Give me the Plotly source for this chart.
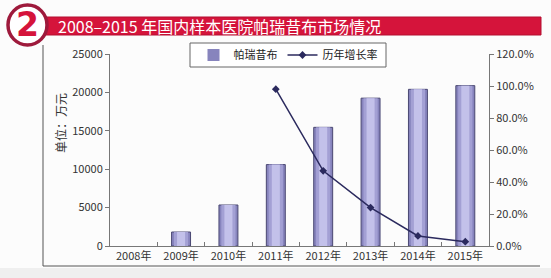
import plotly.graph_objects as go

years = ["2008年", "2009年", "2010年", "2011年", "2012年", "2013年", "2014年", "2015年"]
sales = [0, 1820, 5340, 10600, 15450, 19250, 20400, 20880]
growth = [None, None, None, 0.98, 0.47, 0.24, 0.063, 0.027]

title_text = "2008–2015 年国内样本医院帕瑞昔布市场情况"
y_title = "单位：万元"
bar_name = "帕瑞昔布"
line_name = "历年增长率"

W, H = 551, 278
L, R, T, B = 110, 489, 54, 246


def px(x):
    return (x - L) / (R - L)


def py(y):
    return (B - y) / (B - T)


FONT = "Noto Sans CJK SC"

fig = go.Figure()

outline = [0 if v == 0 else 1 for v in sales]
layers = [(0.40, "#8784bd", True), (0.30, "#a3a0d4", False), (0.17, "#c3c1ea", False)]
for w, c, first in layers:
    fig.add_trace(go.Bar(
        x=years, y=sales, width=w, name=bar_name,
        marker=dict(color=c, line=dict(color="#4a4872", width=outline if first else 0)),
        showlegend=first, hoverinfo="skip" if not first else None,
    ))

fig.add_trace(go.Scatter(
    x=years, y=growth, name=line_name, yaxis="y2", mode="lines+markers",
    line=dict(color="#2b2a5e", width=1.5),
    marker=dict(symbol="diamond", size=6, color="#2b2a5e"),
))

shapes = [
    dict(type="rect", xref="paper", yref="paper", x0=px(0), x1=px(W), y0=py(268), y1=py(H + 2),
         fillcolor="#efefef", line=dict(width=0), layer="below"),
    dict(type="rect", xref="paper", yref="paper", x0=px(45), x1=px(541), y0=py(35), y1=py(17),
         fillcolor="#d5143b", line=dict(color="#b30f30", width=1)),
    dict(type="line", xref="paper", yref="paper", x0=px(43), x1=px(43), y0=py(45), y1=py(266),
         line=dict(color="#555555", width=1)),
    dict(type="line", xref="paper", yref="paper", x0=px(43), x1=px(540), y0=py(266), y1=py(266),
         line=dict(color="#555555", width=1)),
    dict(type="rect", xref="paper", yref="paper", x0=px(190), x1=px(386), y0=py(67), y1=py(43),
         fillcolor="white", line=dict(color="#666666", width=1), layer="below"),
    dict(type="circle", xref="paper", yref="paper", x0=px(8), x1=px(47), y0=py(45), y1=py(5),
         fillcolor="white", line=dict(color="#9e1a3c", width=3.5)),
]

annotations = [
    dict(text=title_text, xref="paper", yref="paper", x=px(56), y=py(26), xanchor="left", yanchor="middle",
         showarrow=False, font=dict(family=FONT, size=16, color="white")),
    dict(text="<b>2</b>", xref="paper", yref="paper", x=px(27.5), y=py(25), xanchor="center", yanchor="middle",
         showarrow=False, font=dict(family="DejaVu Sans", size=33, color="#d5143b")),
    dict(text=y_title, xref="paper", yref="paper", x=px(60), y=py(123), xanchor="center", yanchor="middle",
         showarrow=False, textangle=-90, font=dict(family=FONT, size=12, color="#333333")),
]

fig.update_layout(
    width=W, height=H,
    margin=dict(l=L, r=W - R, t=T, b=H - B),
    paper_bgcolor="#fcfcfc", plot_bgcolor="rgba(0,0,0,0)",
    barmode="overlay",
    font=dict(family=FONT, size=11, color="#333333"),
    showlegend=True,
    legend=dict(orientation="h", x=px(288), y=py(55), xanchor="center", yanchor="middle",
                bgcolor="rgba(0,0,0,0)", font=dict(family=FONT, size=11, color="#222222"),
                itemwidth=30, tracegroupgap=0),
    xaxis=dict(type="category", range=[-0.5, 7.5], showline=True, linecolor="#777777",
               ticks="inside", tickson="boundaries", ticklen=4, tickcolor="#777777",
               showgrid=False, tickfont=dict(size=11, color="#333333")),
    yaxis=dict(range=[0, 25000], dtick=5000, tickformat="d", showline=True, linecolor="#777777",
               ticks="outside", ticklen=4, tickcolor="#777777", showgrid=False, zeroline=False,
               tickfont=dict(size=11, color="#333333")),
    yaxis2=dict(range=[0, 1.2], dtick=0.2, tickformat=".1%", overlaying="y", side="right",
                showline=True, linecolor="#777777", ticks="outside", ticklen=4, tickcolor="#777777",
                showgrid=False, zeroline=False, tickfont=dict(size=11, color="#333333")),
    shapes=shapes, annotations=annotations,
)

fig.write_html("out.html")
